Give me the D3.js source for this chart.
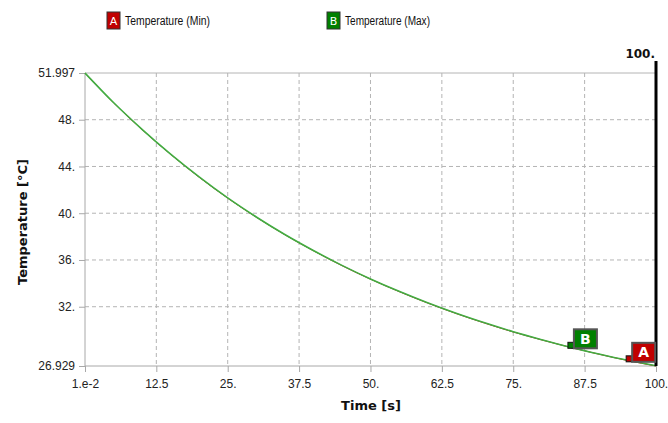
<!DOCTYPE html>
<html><head><meta charset="utf-8">
<script src="https://cdn.jsdelivr.net/npm/d3@7"></script>
<style>body{margin:0;background:#fff;} svg{display:block;font-family:"DejaVu Sans",sans-serif;}</style>
</head><body>
<svg id="c" width="668" height="423"></svg>
<script>
const time    = [0.01, 5, 10, 15, 20, 25, 30, 35, 40, 45, 50, 55, 60, 65, 70, 75, 80, 85, 90, 95, 100];
const tempMax = [51.997, 49.47, 47.18, 45.06, 43.11, 41.31, 39.68, 38.18, 36.81, 35.54, 34.38, 33.32, 32.34, 31.44, 30.62, 29.86, 29.18, 28.54, 27.96, 27.42, 26.95];
const tempMin = [51.990, 49.45, 47.15, 45.04, 43.08, 41.29, 39.66, 38.16, 36.79, 35.52, 34.36, 33.30, 32.32, 31.42, 30.60, 29.84, 29.16, 28.52, 27.94, 27.40, 26.929];
const xTicks = [0.01, 12.5, 25, 37.5, 50, 62.5, 75, 87.5, 100];
const xTickLabels = ["1.e-2", "12.5", "25.", "37.5", "50.", "62.5", "75.", "87.5", "100."];
const yTicks = [26.929, 32, 36, 40, 44, 48, 51.997];
const yTickLabels = ["26.929", "32.", "36.", "40.", "44.", "48.", "51.997"];
const seriesNames = ["Temperature (Min)", "Temperature (Max)"];
const seriesLetters = ["A", "B"];
const seriesColors = ["#c00000", "#008000"];
const markerTimes = [95.3, 85.1];
const cursorTime = 100;

const svg = d3.select("#c");
const x = d3.scaleLinear().domain([0.01, 100]).range([85, 656]);
const y = d3.scaleLinear().domain([26.929, 51.997]).range([366, 73]);
const tickFont = "'Liberation Sans','DejaVu Sans',sans-serif";

// grid
const g = svg.append("g");
g.selectAll(".vg").data(xTicks.slice(1, -1)).enter().append("line")
  .attr("x1", d => x(d)).attr("x2", d => x(d)).attr("y1", y.range()[1]).attr("y2", y.range()[0])
  .attr("stroke", "#b4b4b4").attr("stroke-dasharray", "4,3");
g.selectAll(".hg").data(yTicks.slice(1, -1)).enter().append("line")
  .attr("y1", d => y(d)).attr("y2", d => y(d)).attr("x1", x.range()[0]).attr("x2", x.range()[1])
  .attr("stroke", "#b4b4b4").attr("stroke-dasharray", "4,3");
g.append("line").attr("x1", x.range()[0]).attr("x2", x.range()[1]).attr("y1", y(51.997)).attr("y2", y(51.997))
  .attr("stroke", "#b4b4b4");

// axes
const xAxis = d3.axisBottom(x).tickValues(xTicks).tickFormat((d, i) => xTickLabels[i]).tickSize(6).tickPadding(7);
const yAxis = d3.axisLeft(y).tickValues(yTicks).tickFormat((d, i) => yTickLabels[i]).tickSize(6).tickPadding(4);
const gx = svg.append("g").attr("transform", `translate(0,${y.range()[0]})`).call(xAxis);
const gy = svg.append("g").attr("transform", `translate(${x.range()[0]},0)`).call(yAxis);
[gx, gy].forEach(a => {
  a.select(".domain").attr("stroke", "#a8a8a8");
  a.selectAll(".tick line").attr("stroke", "#a8a8a8");
  a.selectAll(".tick text").attr("fill", "#222").style("font-size", "12px").style("font-family", tickFont);
});
gx.select(".domain").attr("d", `M${x.range()[0]},0H${x.range()[1]}`);
gy.select(".domain").attr("d", `M0,${y.range()[0]}V${y.range()[1]}`);

// axis titles
svg.append("text").attr("x", 371).attr("y", 410).attr("text-anchor", "middle")
  .style("font-weight", "bold").style("font-size", "13px").attr("fill", "#111").text("Time [s]");
svg.append("text").attr("transform", "translate(27,222) rotate(-90)").attr("text-anchor", "middle")
  .style("font-weight", "bold").style("font-size", "13px").attr("fill", "#111").text("Temperature [°C]");

// lines
const line = vals => d3.line().x((d, i) => x(time[i])).y(d => y(d)).curve(d3.curveMonotoneX)(vals);
svg.append("path").attr("d", line(tempMin)).attr("fill", "none").attr("stroke", seriesColors[0]).attr("stroke-width", 1);
svg.append("path").attr("d", line(tempMax)).attr("fill", "none").attr("stroke", "#42ad42").attr("stroke-width", 1.6);

// cursor line
svg.append("line").attr("x1", x(cursorTime)).attr("x2", x(cursorTime)).attr("y1", 61).attr("y2", y.range()[0])
  .attr("stroke", "#000").attr("stroke-width", 3);
svg.append("text").attr("x", x(cursorTime) - 1).attr("y", 58).attr("text-anchor", "end")
  .style("font-weight", "bold").style("font-size", "12px").attr("fill", "#111").text("100.");

// markers
const series = [tempMin, tempMax];
markerTimes.forEach((t, k) => {
  const v = d3.scaleLinear().domain(time).range(series[k])(t);
  const mx = x(t), my = y(v) - 2;
  svg.append("rect").attr("x", mx - 3).attr("y", my - 3).attr("width", 6).attr("height", 6)
    .attr("fill", seriesColors[k]).attr("stroke", "#111").attr("stroke-width", 1);
  const bw = 23, bh = 19;
  const bx = mx + 3, by = my + 3 - bh;
  svg.append("rect").attr("x", bx).attr("y", by).attr("width", bw).attr("height", bh)
    .attr("fill", seriesColors[k]).attr("stroke", "#555").attr("stroke-width", 2);
  svg.append("text").attr("x", bx + bw / 2).attr("y", by + bh / 2 + 5).attr("text-anchor", "middle")
    .style("font-size", "14px").style("font-weight", "bold").attr("fill", "#fff").text(seriesLetters[k]);
});

// legend
const legendX = [107, 327];
seriesNames.forEach((n, k) => {
  svg.append("rect").attr("x", legendX[k]).attr("y", 12).attr("width", 13).attr("height", 17)
    .attr("fill", seriesColors[k]).attr("stroke", "#333").attr("stroke-width", 1);
  svg.append("text").attr("x", legendX[k] + 6.5).attr("y", 25).attr("text-anchor", "middle")
    .style("font-size", "11px").attr("fill", "#fff").text(seriesLetters[k]);
  svg.append("text").attr("x", legendX[k] + 18).attr("y", 25)
    .style("font-size", "12px").style("font-family", tickFont)
    .attr("textLength", 85).attr("lengthAdjust", "spacingAndGlyphs")
    .attr("fill", "#111").text(n);
});
</script>
</body></html>
